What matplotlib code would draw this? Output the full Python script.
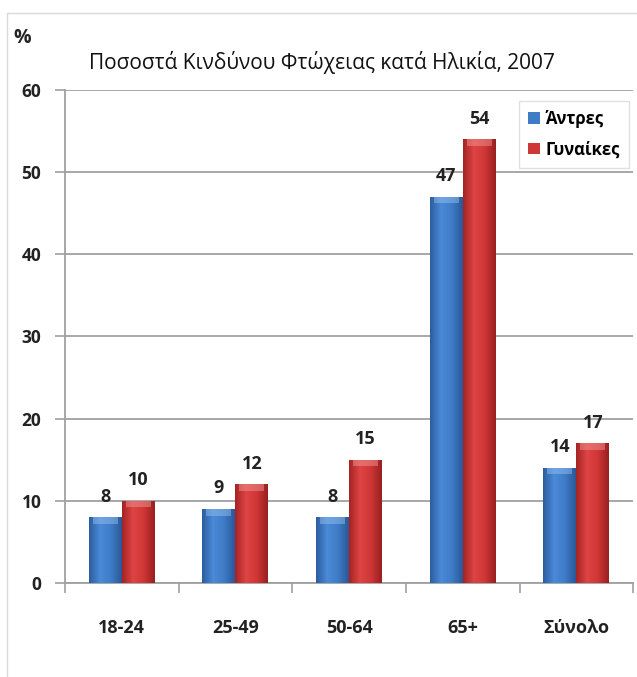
import numpy as np
import matplotlib
matplotlib.use("Agg")
import matplotlib.pyplot as plt
from matplotlib.patches import Rectangle
from matplotlib.colors import LinearSegmentedColormap

plt.rcParams['font.family'] = ['Open Sans', 'DejaVu Sans']

# data
categories = ['18-24', '25-49', '50-64', '65+', 'Σύνολο']
men = [8, 9, 8, 47, 14]
women = [10, 12, 15, 54, 17]
series_names = ['Άντρες', 'Γυναίκες']
title = 'Ποσοστά Κινδύνου Φτώχειας κατά Ηλικία, 2007'
y_ticks = [0, 10, 20, 30, 40, 50, 60]

blue_map = LinearSegmentedColormap.from_list('b', ['#2c5d9e', '#4a8ad8', '#3f7cc8', '#2a5898'])
red_map = LinearSegmentedColormap.from_list('r', ['#a52424', '#de4444', '#cf3636', '#9a2020'])

fig = plt.figure(figsize=(6.37, 6.77), dpi=100)
ax = fig.add_axes([0.102, 0.139, 0.892, 0.728])

# light frame around the chart area
fig.patches.append(Rectangle((0.011, -0.01), 1.0, 0.991, transform=fig.transFigure,
                             fill=False, edgecolor='#d9d9d9', lw=1.0))

x = np.arange(len(categories))
w = 0.29


def shade_bars(bars, cmap, top_color):
    grad = np.linspace(0, 1, 64).reshape(1, -1)
    for b in bars:
        x0, y0 = b.get_x(), b.get_y()
        bw, bh = b.get_width(), b.get_height()
        im = ax.imshow(grad, cmap=cmap, extent=[x0, x0 + bw, y0, y0 + bh],
                       aspect='auto', zorder=3)
        im.set_clip_path(b)
        # lighter bevel on top
        ax.add_patch(Rectangle((x0 + bw * 0.12, y0 + bh - 0.8), bw * 0.76, 0.8,
                               facecolor=top_color, edgecolor='none', alpha=0.45, zorder=4))


bars_m = ax.bar(x - w / 2, men, w, color='#3f7cc8', zorder=2, label=series_names[0])
bars_w = ax.bar(x + w / 2, women, w, color='#cf3636', zorder=2, label=series_names[1])
shade_bars(bars_m, blue_map, '#9cc4f0')
shade_bars(bars_w, red_map, '#f4a0a0')

for bars, vals in ((bars_m, men), (bars_w, women)):
    for b, v in zip(bars, vals):
        ax.text(b.get_x() + b.get_width() / 2, v + 1.4, str(v), ha='center', va='bottom',
                fontsize=13, fontweight='bold', color='#222222')

ax.set_xlim(-0.5, len(categories) - 0.5)
ax.set_ylim(0, 60)
ax.set_yticks(y_ticks)
ax.set_xticks(x)
ax.set_xticklabels(categories)
ax.set_xticks(np.arange(len(categories) + 1) - 0.5, minor=True)
ax.tick_params(axis='x', which='major', length=0, pad=26, labelsize=13)
ax.tick_params(axis='x', which='minor', length=7, color='#a0a0a0', width=1.2, direction='out')
ax.tick_params(axis='y', length=7, color='#a0a0a0', width=1.2, pad=10, labelsize=12.5)
for lab in ax.get_xticklabels() + ax.get_yticklabels():
    lab.set_fontweight('bold')
    lab.set_color('#222222')

ax.yaxis.grid(True, color='#a0a0a0', lw=1.3, zorder=0)
ax.set_axisbelow(True)
for s in ('top', 'right'):
    ax.spines[s].set_visible(False)
ax.spines['left'].set_color('#a0a0a0')
ax.spines['left'].set_linewidth(1.3)
ax.spines['bottom'].set_color('#a0a0a0')
ax.spines['bottom'].set_linewidth(1.3)

fig.text(0.506, 0.908, title, ha='center', va='center', fontsize=15, color='#111111')
fig.text(0.035, 0.944, '%', ha='center', va='center', fontsize=14, fontweight='bold', color='#222222')

leg = ax.legend(loc='upper right', bbox_to_anchor=(0.998, 0.985), frameon=True, fancybox=False,
                fontsize=12, handlelength=0.7, handleheight=0.7, handletextpad=0.3,
                labelspacing=0.75, borderpad=0.55, borderaxespad=0.2)
leg.get_frame().set_edgecolor('#d9d9d9')
leg.get_frame().set_linewidth(1.0)
for t in leg.get_texts():
    t.set_fontweight('bold')

fig.savefig('out.png', dpi=100, facecolor='white')
